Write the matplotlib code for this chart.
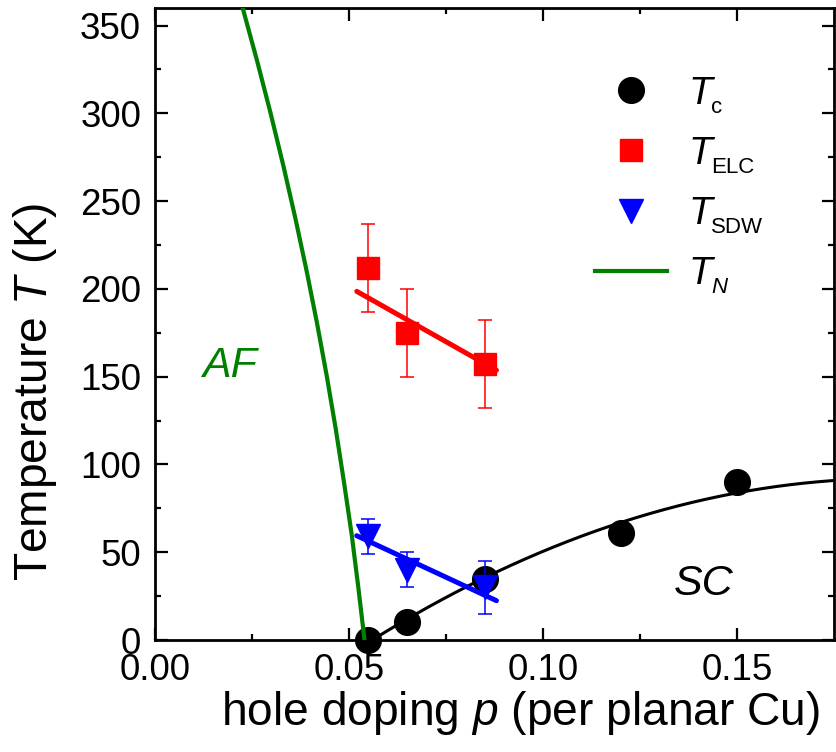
import numpy as np
import matplotlib
matplotlib.use("Agg")
import matplotlib.pyplot as plt
from matplotlib.lines import Line2D

plt.rcParams["font.family"] = ["Liberation Sans", "DejaVu Sans"]
plt.rcParams["mathtext.fontset"] = "custom"
plt.rcParams["mathtext.rm"] = "Liberation Sans"
plt.rcParams["mathtext.it"] = "Liberation Sans:italic"

# superconducting transition temperatures
tc_p = [0.055, 0.065, 0.085, 0.12, 0.15]
tc_T = [0, 10, 35, 61, 90]

# superconducting dome parameters (parabolic dome)
TC_MAX = 92.0
P_OPT = 0.19
HALF_WIDTH = 0.134

# electronic-liquid-crystal onset
elc_p = [0.055, 0.065, 0.085]
elc_T = [212, 175, 157]
elc_err = [25, 25, 25]
elc_line_p = [0.052, 0.088]
elc_line_T = [198.6, 153.7]

# spin-density-wave onset
sdw_p = [0.055, 0.065, 0.085]
sdw_T = [59, 40, 30]
sdw_err = [10, 10, 15]
sdw_line_p = [0.052, 0.088]
sdw_line_T = [59.4, 22.4]

# Neel temperature boundary
tn_p = [0.0226, 0.0263, 0.0298, 0.0331, 0.0362, 0.0391, 0.0418,
        0.0443, 0.0466, 0.0487, 0.0507, 0.0524, 0.0540]
tn_T = [360, 330, 300, 270, 240, 210, 180, 150, 120, 90, 60, 30, 0]

legend_main = ["T", "T", "T", "T"]
legend_sub = ["c", "ELC", "SDW", "N"]
legend_sub_italic = [False, False, False, True]

fig = plt.figure(figsize=(8.36, 7.52), dpi=100)
ax = fig.add_axes([155 / 836, 1 - 640 / 752, (834 - 155) / 836, (640 - 8) / 752])

# dome
p_dome = np.linspace(P_OPT - HALF_WIDTH, 0.175, 200)
T_dome = TC_MAX * (1 - ((p_dome - P_OPT) / HALF_WIDTH) ** 2)
ax.plot(p_dome, T_dome, color="black", lw=2.2, zorder=2)
ax.plot(tc_p, tc_T, "o", color="black", ms=18.5, zorder=3, clip_on=False)

# ELC
ax.errorbar(elc_p, elc_T, yerr=elc_err, fmt="none", ecolor="red",
            elinewidth=1.1, capsize=4.7, capthick=1.1, zorder=3)
ax.plot(elc_p, elc_T, "s", color="red", ms=16.5, zorder=4)
ax.plot(elc_line_p, elc_line_T, color="red", lw=3.6,
        solid_capstyle="round", zorder=5)

# SDW
ax.errorbar(sdw_p, sdw_T, yerr=sdw_err, fmt="none", ecolor="blue",
            elinewidth=1.1, capsize=4.7, capthick=1.1, zorder=3)
ax.plot(sdw_p, sdw_T, "v", color="blue", ms=17, zorder=4)
ax.plot(sdw_line_p, sdw_line_T, color="blue", lw=3.6,
        solid_capstyle="round", zorder=5)

# Neel line
ax.plot(tn_p, tn_T, color="green", lw=3.0, zorder=6,
        solid_joinstyle="round")

ax.text(0.0192, 156, "AF", color="green", style="italic", fontsize=31,
        ha="center", va="center")
ax.text(0.1415, 32, "SC", color="black", style="italic", fontsize=31,
        ha="center", va="center")

ax.set_xlim(0, 0.175)
ax.set_ylim(0, 360)
ax.set_xticks([0.0, 0.05, 0.10, 0.15])
ax.set_xticklabels(["0.00", "0.05", "0.10", "0.15"])
ax.set_xticks(np.arange(0.025, 0.175, 0.05), minor=True)
ax.set_yticks(np.arange(0, 351, 50))
ax.set_yticks(np.arange(25, 360, 50), minor=True)

ax.tick_params(which="both", direction="in", top=True, right=True,
               width=1.6, labelsize=26.5)
ax.tick_params(axis="x", which="major", pad=9)
ax.tick_params(axis="y", which="major", pad=10)
ax.tick_params(which="major", length=9)
ax.tick_params(which="minor", length=4.5)
for s in ax.spines.values():
    s.set_linewidth(2.0)

ax.set_xlabel("hole doping $p$ (per planar Cu)", fontsize=33.2, labelpad=1,
              x=(521 - 155) / 679)
ax.set_ylabel("Temperature $T$ (K)", fontsize=33.2, labelpad=15,
              y=(640 - 392) / 632)

handles = [
    Line2D([], [], marker="o", color="black", ls="none", ms=18.5),
    Line2D([], [], marker="s", color="red", ls="none", ms=16.5),
    Line2D([], [], marker="v", color="blue", ls="none", ms=17),
    Line2D([], [], color="green", lw=3.0),
]
leg = ax.legend(handles, legend_main, loc="upper left",
                bbox_to_anchor=((595 - 155) / 679, (640 - 76) / 632),
                frameon=False, fontsize=28, handlelength=1.85,
                handletextpad=0.55, labelspacing=0.62, borderpad=0,
                borderaxespad=0)
for t in leg.get_texts():
    t.set_style("italic")

# subscripts placed next to each legend "T"
fig.canvas.draw()
renderer = fig.canvas.get_renderer()
for t, sub, it in zip(leg.get_texts(), legend_sub, legend_sub_italic):
    bb = t.get_window_extent(renderer)
    fig.text(bb.x1 - 1, bb.y0 - 6, sub, fontsize=16,
             style="italic" if it else "normal", ha="left", va="bottom",
             transform=None)

fig.savefig("out.png", dpi=100)
